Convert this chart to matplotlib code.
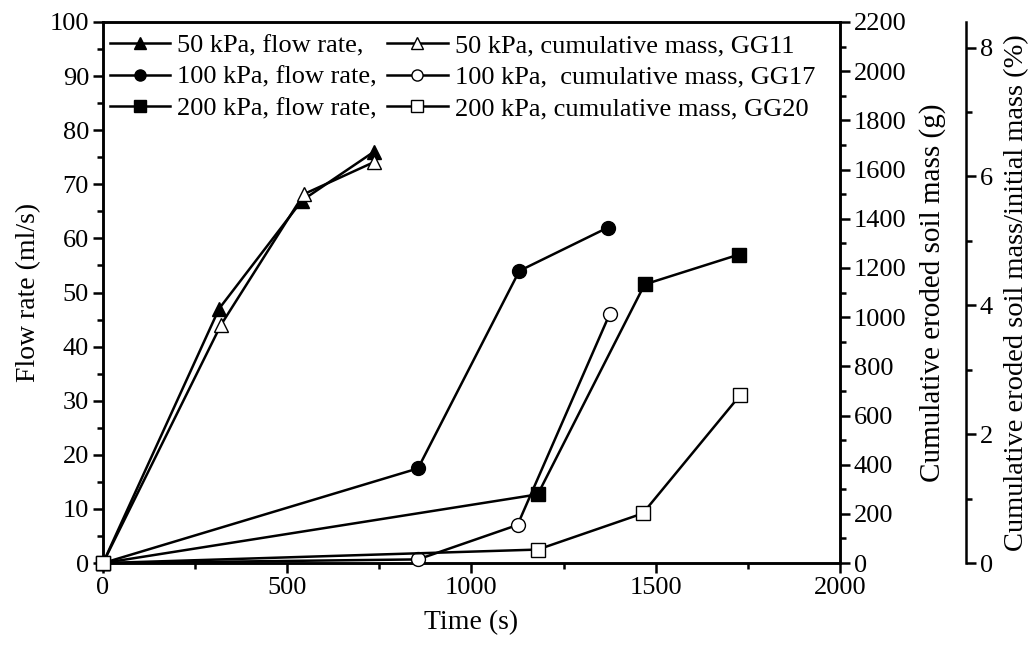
import matplotlib.pyplot as plt
import matplotlib.ticker as mticker

plt.rcParams['font.family'] = ['Liberation Serif', 'DejaVu Serif']
plt.rcParams['mathtext.fontset'] = 'stix'

# Flow rate (ml/s), left axis
t_50 = [0, 315, 540, 735]
q_50 = [0, 47, 67, 76]
t_100 = [0, 855, 1130, 1370]
q_100 = [0, 17.5, 54, 62]
t_200 = [0, 1180, 1470, 1725]
q_200 = [0, 12.7, 51.5, 57]

# Cumulative eroded soil mass (g), right axis
tm_50 = [0, 320, 545, 735]
m_50 = [0, 968, 1500, 1630]
tm_100 = [0, 855, 1125, 1375]
m_100 = [0, 15, 155, 1012]
tm_200 = [0, 1180, 1465, 1730]
m_200 = [0, 55, 202, 684]

labels_flow = ['50 kPa, flow rate,', '100 kPa, flow rate,', '200 kPa, flow rate,']
labels_mass = ['50 kPa, cumulative mass, GG11', '100 kPa,  cumulative mass, GG17',
               '200 kPa, cumulative mass, GG20']

fig = plt.figure(figsize=(10.35, 6.54), dpi=100)
ax = fig.add_axes([0.0995, 0.139, 0.712, 0.8274])
ax2 = ax.twinx()
ax3 = ax.twinx()

fs = 19
lw = 1.8
ms = 10

kw = dict(color='black', lw=lw, ms=ms, clip_on=False, zorder=5)
h1, = ax.plot(t_50, q_50, marker='^', mfc='black', label=labels_flow[0], **kw)
h2, = ax.plot(t_100, q_100, marker='o', mfc='black', label=labels_flow[1], **kw)
h3, = ax.plot(t_200, q_200, marker='s', mfc='black', label=labels_flow[2], **kw)

kw2 = dict(color='black', lw=lw, ms=ms, mfc='white', mew=1.0, clip_on=False, zorder=5)
h4, = ax2.plot(tm_50, m_50, marker='^', label=labels_mass[0], **kw2)
h5, = ax2.plot(tm_100, m_100, marker='o', label=labels_mass[1], **kw2)
h6, = ax2.plot(tm_200, m_200, marker='s', label=labels_mass[2], **kw2)

ax.set_xlim(0, 2000)
ax.set_ylim(0, 100)
ax2.set_ylim(0, 2200)
ax3.set_ylim(0, 2200 / 26200 * 100)

ax.xaxis.set_major_locator(mticker.MultipleLocator(500))
ax.xaxis.set_minor_locator(mticker.MultipleLocator(250))
ax.yaxis.set_major_locator(mticker.MultipleLocator(10))
ax.yaxis.set_minor_locator(mticker.MultipleLocator(5))
ax2.yaxis.set_major_locator(mticker.MultipleLocator(200))
ax2.yaxis.set_minor_locator(mticker.MultipleLocator(100))
ax3.yaxis.set_major_locator(mticker.MultipleLocator(2))
ax3.yaxis.set_minor_locator(mticker.MultipleLocator(1))

ax3.spines['right'].set_position(('axes', 1.171))
for s in ('top', 'left', 'bottom'):
    ax3.spines[s].set_visible(False)

for a in (ax, ax2, ax3):
    for s in a.spines.values():
        s.set_linewidth(1.8)
    a.tick_params(which='major', direction='out', length=7, width=1.8, labelsize=fs, pad=3)
    a.tick_params(which='minor', direction='out', length=4, width=1.8)

ax.set_xlabel('Time (s)', fontsize=20, labelpad=8)
ax.set_ylabel('Flow rate (ml/s)', fontsize=20, labelpad=6)
ax2.set_ylabel('Cumulative eroded soil mass (g)', fontsize=21, labelpad=9)
ax3.set_ylabel('Cumulative eroded soil mass/initial mass (%)', fontsize=20.5, labelpad=8)

ax3.legend(handles=[h1, h2, h3, h4, h5, h6], ncol=2, frameon=False,
           loc='upper left', bbox_to_anchor=(0.0, 0.99), fontsize=fs,
           handlelength=2.3, handletextpad=0.27, columnspacing=0.38,
           labelspacing=0.3, borderpad=0.2, borderaxespad=0.05, markerscale=0.8)

fig.savefig('out.png', dpi=100)
